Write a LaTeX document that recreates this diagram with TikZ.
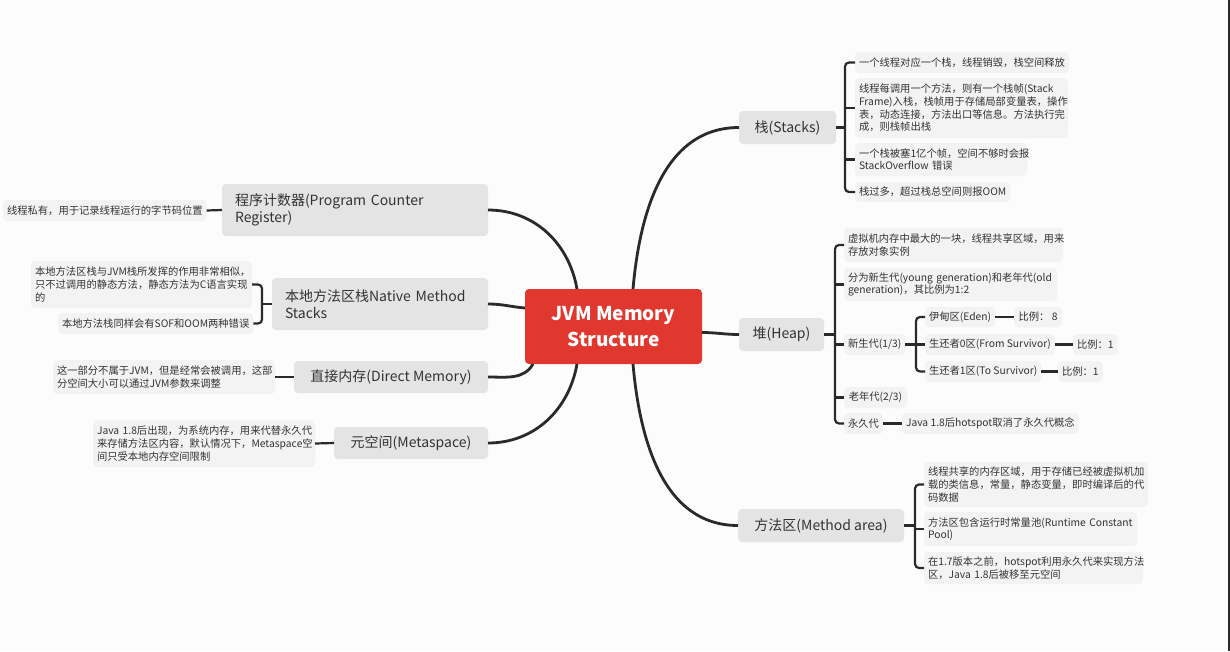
\documentclass[tikz,border=0pt]{standalone}
\usepackage{fontspec}
\setmainfont{Noto Sans CJK SC}
\usetikzlibrary{calc,positioning}
\definecolor{jvmred}{HTML}{E0382F}
\definecolor{topicgray}{HTML}{E4E4E4}
\definecolor{leafgray}{HTML}{F3F3F3}
\definecolor{paper}{HTML}{FCFCFC}
\definecolor{ink}{HTML}{333333}
\definecolor{wire}{HTML}{2A2A2A}

\begin{document}
\begin{tikzpicture}[x=1pt,y=-1pt,every node/.style={outer sep=0pt}]
\tikzstyle{topic}=[anchor=north west,fill=topicgray,rounded corners=4pt,inner xsep=13pt,inner ysep=0pt,align=left,text=ink,font=\fontsize{14}{17.5}\selectfont]
\tikzstyle{leaf}=[anchor=north west,fill=leafgray,rounded corners=4pt,inner xsep=4pt,inner ysep=0pt,align=left,text=ink,font=\fontsize{10.3}{12.7}\selectfont]
\tikzstyle{main}=[draw=wire,line width=2.8pt]
\tikzstyle{branch}=[draw=wire,line width=2.2pt,rounded corners=4pt]

\useasboundingbox (0,0) rectangle (1230,651);
\fill[paper] (0,0) rectangle (1230,651);
\fill[wire] (1228,0) rectangle (1230,651);

% centre
\node (jvm) [fill=jvmred,rounded corners=4pt,minimum width=177pt,minimum height=75pt,text=white,align=center,font=\fontsize{19}{26}\selectfont\bfseries] at (613.5,326.5) {JVM Memory\\Structure};

% main topics, right
\node (stacks) [topic,minimum width=97pt,minimum height=33pt] at (739,111) {栈(Stacks)};
\node (heap) [topic,minimum width=85pt,minimum height=33pt] at (739,318) {堆(Heap)};
\node (method) [topic,minimum width=166pt,minimum height=33pt] at (738,509) {方法区(Method area)};

% main topics, left
\node (pcr) [topic,text width=240pt,minimum height=52pt] at (222,184) {程序计数器(Program Counter\\Register)};
\node (native) [topic,text width=190pt,minimum height=52pt] at (272,278) {本地方法区栈Native~Method\\Stacks};
\node (direct) [topic,minimum width=194pt,minimum height=32pt] at (294,361) {直接内存(Direct Memory)};
\node (meta) [topic,minimum width=154pt,minimum height=32pt] at (334,427) {元空间(Metaspace)};

% stacks
\node (stk1) [leaf,minimum width=209pt,minimum height=21pt] at (855,52) {一个线程对应一个栈，线程销毁，栈空间释放};
\node (stk2) [leaf,text width=205pt,minimum height=60pt] at (855,78) {线程每调用一个方法，则有一个栈帧(Stack\\Frame)入栈，栈帧用于存储局部变量表，操作\\表，动态连接，方法出口等信息。方法执行完\\成，则栈帧出栈};
\node (stk3) [leaf,text width=164pt,minimum height=33pt] at (855,143) {一个栈被塞1亿个帧，空间不够时会报\\StackOverflow~错误};
\node (stk4) [leaf,minimum width=153pt,minimum height=20pt] at (855,182) {栈过多，超过栈总空间则报OOM};

% heap
\node (heap1) [leaf,text width=211pt,minimum height=34pt] at (844,228) {虚拟机内存中最大的一块，线程共享区域，用来\\存放对象实例};
\node (heap2) [leaf,text width=205pt,minimum height=33pt] at (844,268) {分为新生代(young~generation)和老年代(old\\generation)，其比例为1:2};
\node (young) [leaf,minimum width=61pt,minimum height=21pt] at (844,334) {新生代(1/3)};
\node (old) [leaf,minimum width=63pt,minimum height=21pt] at (844,387) {老年代(2/3)};
\node (perm) [leaf,minimum width=38pt,minimum height=21pt] at (844,413) {永久代};
\node (permnote) [leaf,minimum width=173pt,minimum height=21pt] at (902,413) {Java 1.8后hotspot取消了永久代概念};
\node (eden) [leaf,minimum width=69pt,minimum height=20pt] at (925,307) {伊甸区(Eden)};
\node (edenratio) [leaf,minimum width=48pt,minimum height=20pt] at (1014,307) {比例：~8};
\node (fromsurv) [leaf,minimum width=129pt,minimum height=21pt] at (925,334) {生还者0区(From Survivor)};
\node (fromratio) [leaf,minimum width=43pt,minimum height=21pt] at (1073,334) {比例：1};
\node (tosurv) [leaf,minimum width=114pt,minimum height=21pt] at (925,361) {生还者1区(To Survivor)};
\node (toratio) [leaf,minimum width=42pt,minimum height=21pt] at (1058,361) {比例：1};

% method area
\node (mth1) [leaf,text width=216pt,minimum height=45pt] at (924,462) {线程共享的内存区域，用于存储已经被虚拟机加\\载的类信息，常量，静态变量，即时编译后的代\\码数据};
\node (mth2) [leaf,text width=205pt,minimum height=34pt] at (924,512) {方法区包含运行时常量池(Runtime~Constant\\Pool)};
\node (mth3) [leaf,text width=211pt,minimum height=32pt] at (924,552) {在1.7版本之前，hotspot利用永久代来实现方法\\区，Java~1.8后被移至元空间};

% left leaves
\node (pcrnote) [leaf,minimum width=200pt,minimum height=21pt] at (3,200) {线程私有，用于记录线程运行的字节码位置};
\node (nat1) [leaf,text width=213pt,minimum height=47pt] at (31,261) {本地方法区栈与JVM栈所发挥的作用非常相似，\\只不过调用的静态方法，静态方法为C语言实现\\的};
\node (nat2) [leaf,minimum width=194pt,minimum height=21pt] at (58,313) {本地方法栈同样会有SOF和OOM两种错误};
\node (dirnote) [leaf,text width=214pt,minimum height=34pt] at (53,360) {这一部分不属于JVM，但是经常会被调用，这部\\分空间大小可以通过JVM参数来调整};
\node (metanote) [leaf,text width=214pt,minimum height=47pt] at (93,420) {Java~1.8后出现，为系统内存，用来代替永久代\\来存储方法区内容，默认情况下，Metaspace空\\间只受本地内存空间限制};

% main connectors
\draw[main] ($(jvm.north west)+(52,0)$) to[out=100,in=0] (pcr.east);
\draw[main] ($(jvm.north west)+(0,19)$) to[out=175,in=0] (native.east);
\draw[main] ($(jvm.south west)+(8,0)$) to[out=240,in=0] (direct.east);
\draw[main] ($(jvm.south west)+(52,0)$) to[out=260,in=0] (meta.east);
\draw[main] ($(jvm.north east)+(-69,0)$) to[out=85,in=180] (stacks.west);
\draw[main] ($(jvm.east)+(0,6)$) to[out=0,in=180] (heap.west);
\draw[main] ($(jvm.south east)+(-69,0)$) to[out=275,in=180] (method.west);

% brackets
\coordinate (stkbar) at (845,0);
\coordinate (heapbar) at (835,0);
\coordinate (youngbar) at (916,0);
\coordinate (mthbar) at (915,0);
\coordinate (natbar) at (262,0);

\draw[branch] (stacks.east) -- (stacks.east -| stkbar);
\draw[branch] (stk1.west) -- (stk1.west -| stkbar) |- (stk4.west);
\foreach \n in {stk2,stk3} \draw[branch] (\n.west -| stkbar) -- (\n.west);

\draw[branch] (heap.east) -- (heap.east -| heapbar);
\draw[branch] (heap1.west) -- (heap1.west -| heapbar) |- (perm.west);
\foreach \n in {heap2,young,old} \draw[branch] (\n.west -| heapbar) -- (\n.west);

\draw[branch] (young.east) -- (young.east -| youngbar);
\draw[branch] (eden.west) -- (eden.west -| youngbar) |- (tosurv.west);
\draw[branch] (fromsurv.west -| youngbar) -- (fromsurv.west);

\draw[branch] (method.east) -- (method.east -| mthbar);
\draw[branch] (mth1.west) -- (mth1.west -| mthbar) |- (mth3.west);
\draw[branch] (mth2.west -| mthbar) -- (mth2.west);

\draw[branch] (native.west) -- (native.west -| natbar);
\draw[branch] (nat1.east) -- (nat1.east -| natbar) |- (nat2.east);

% single links
\draw[branch] (perm.east) -- (permnote.west);
\draw[branch] (eden.east) -- (edenratio.west);
\draw[branch] (fromsurv.east) -- (fromratio.west);
\draw[branch] (tosurv.east) -- (toratio.west);
\draw[branch] (pcr.west) -- (pcrnote.east);
\draw[branch] (direct.west) -- (dirnote.east);
\draw[branch] (meta.west) -- (metanote.east);
\end{tikzpicture}
\end{document}
